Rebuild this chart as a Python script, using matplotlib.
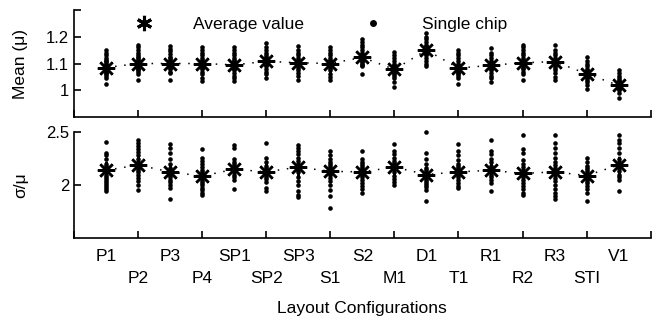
import matplotlib
matplotlib.use("Agg")
import matplotlib.pyplot as plt
from matplotlib.lines import Line2D

plt.rcParams['font.family'] = ['Liberation Sans', 'DejaVu Sans']

# layout configurations (x axis)
configs = ["P1", "P2", "P3", "P4", "SP1", "SP2", "SP3", "S1", "S2",
           "M1", "D1", "T1", "R1", "R2", "R3", "STI", "V1"]

# average values
mean_avg = [1.085, 1.10, 1.10, 1.10, 1.095, 1.108, 1.103, 1.10, 1.123,
            1.078, 1.15, 1.083, 1.093, 1.103, 1.107, 1.062, 1.018]
ratio_avg = [2.14, 2.19, 2.125, 2.085, 2.15, 2.125, 2.17, 2.13, 2.125,
             2.17, 2.10, 2.125, 2.14, 2.11, 2.125, 2.09, 2.19]

# single chip values, mean (mu)
mean_chips = [
    [1.025, 1.045, 1.055, 1.06, 1.065, 1.07, 1.075, 1.08, 1.08, 1.085, 1.09, 1.09, 1.095, 1.10, 1.105, 1.11, 1.115, 1.12, 1.13, 1.14, 1.15],
    [1.04, 1.06, 1.07, 1.075, 1.08, 1.085, 1.09, 1.095, 1.10, 1.10, 1.105, 1.11, 1.115, 1.12, 1.125, 1.13, 1.14, 1.15, 1.16, 1.17],
    [1.04, 1.065, 1.07, 1.08, 1.085, 1.09, 1.095, 1.10, 1.10, 1.105, 1.11, 1.115, 1.12, 1.125, 1.135, 1.145, 1.155, 1.165],
    [1.035, 1.045, 1.06, 1.07, 1.08, 1.085, 1.09, 1.095, 1.10, 1.105, 1.11, 1.115, 1.12, 1.13, 1.14, 1.15, 1.16],
    [1.035, 1.045, 1.055, 1.065, 1.075, 1.08, 1.085, 1.09, 1.095, 1.10, 1.105, 1.11, 1.115, 1.12, 1.13, 1.14, 1.15, 1.16],
    [1.045, 1.06, 1.07, 1.08, 1.09, 1.095, 1.10, 1.105, 1.11, 1.115, 1.12, 1.125, 1.13, 1.14, 1.15, 1.16, 1.175],
    [1.04, 1.055, 1.065, 1.075, 1.085, 1.09, 1.095, 1.10, 1.105, 1.11, 1.115, 1.12, 1.13, 1.14, 1.15, 1.165],
    [1.04, 1.05, 1.06, 1.075, 1.085, 1.09, 1.095, 1.10, 1.105, 1.11, 1.115, 1.12, 1.13, 1.14, 1.15, 1.16],
    [1.062, 1.09, 1.095, 1.10, 1.105, 1.11, 1.115, 1.12, 1.125, 1.13, 1.135, 1.14, 1.15, 1.16, 1.17, 1.18, 1.19],
    [1.013, 1.03, 1.045, 1.055, 1.06, 1.065, 1.07, 1.075, 1.08, 1.085, 1.09, 1.095, 1.10, 1.11, 1.12, 1.13, 1.142],
    [1.09, 1.10, 1.11, 1.12, 1.13, 1.135, 1.14, 1.145, 1.15, 1.155, 1.16, 1.165, 1.17, 1.18, 1.19, 1.20, 1.215],
    [1.024, 1.045, 1.055, 1.06, 1.065, 1.07, 1.075, 1.08, 1.085, 1.09, 1.095, 1.10, 1.11, 1.12, 1.13, 1.14, 1.149],
    [1.032, 1.045, 1.055, 1.065, 1.075, 1.08, 1.085, 1.09, 1.095, 1.10, 1.105, 1.11, 1.12, 1.13, 1.14, 1.157],
    [1.039, 1.06, 1.07, 1.08, 1.085, 1.09, 1.095, 1.10, 1.105, 1.11, 1.115, 1.12, 1.13, 1.14, 1.15, 1.16, 1.17],
    [1.04, 1.048, 1.065, 1.075, 1.085, 1.09, 1.095, 1.10, 1.105, 1.11, 1.115, 1.12, 1.13, 1.14, 1.15, 1.168],
    [1.005, 1.02, 1.03, 1.04, 1.045, 1.05, 1.055, 1.06, 1.065, 1.07, 1.075, 1.08, 1.09, 1.10, 1.11, 1.123],
    [0.97, 0.99, 1.0, 1.005, 1.01, 1.015, 1.02, 1.025, 1.03, 1.035, 1.04, 1.045, 1.055, 1.065, 1.074],
]

# single chip values, sigma/mu
ratio_chips = [
    [1.94, 1.96, 1.98, 2.0, 2.02, 2.04, 2.06, 2.08, 2.10, 2.12, 2.14, 2.16, 2.18, 2.20, 2.25, 2.28, 2.30, 2.41],
    [1.95, 2.0, 2.04, 2.07, 2.10, 2.12, 2.14, 2.16, 2.18, 2.20, 2.22, 2.25, 2.28, 2.31, 2.34, 2.37, 2.40, 2.43],
    [1.87, 1.97, 2.0, 2.03, 2.05, 2.08, 2.10, 2.12, 2.14, 2.16, 2.20, 2.25, 2.30, 2.35, 2.39],
    [1.91, 1.93, 1.95, 1.97, 2.0, 2.02, 2.04, 2.06, 2.08, 2.10, 2.12, 2.14, 2.17, 2.20, 2.23, 2.26, 2.34],
    [1.96, 2.05, 2.08, 2.10, 2.12, 2.14, 2.16, 2.18, 2.20, 2.22, 2.25, 2.35, 2.38],
    [1.94, 1.97, 2.03, 2.06, 2.08, 2.10, 2.12, 2.14, 2.16, 2.18, 2.22, 2.26, 2.40],
    [1.89, 1.91, 1.94, 2.00, 2.04, 2.08, 2.12, 2.14, 2.16, 2.18, 2.20, 2.23, 2.26, 2.29, 2.32, 2.35, 2.38],
    [1.78, 1.90, 1.95, 2.0, 2.04, 2.07, 2.10, 2.12, 2.14, 2.16, 2.18, 2.20, 2.22, 2.25, 2.28, 2.32],
    [1.93, 1.96, 1.99, 2.02, 2.05, 2.08, 2.10, 2.12, 2.14, 2.16, 2.18, 2.20, 2.22, 2.25, 2.32],
    [2.0, 2.03, 2.06, 2.09, 2.12, 2.15, 2.17, 2.19, 2.21, 2.23, 2.26, 2.29, 2.32, 2.39],
    [1.85, 1.95, 1.98, 2.0, 2.02, 2.04, 2.06, 2.08, 2.10, 2.12, 2.14, 2.16, 2.20, 2.25, 2.30, 2.50],
    [1.97, 1.99, 2.02, 2.05, 2.08, 2.10, 2.12, 2.14, 2.16, 2.18, 2.20, 2.24, 2.28, 2.32, 2.39],
    [1.94, 2.02, 2.05, 2.08, 2.10, 2.12, 2.14, 2.16, 2.18, 2.22, 2.25, 2.29, 2.32, 2.43],
    [1.91, 1.93, 1.96, 1.99, 2.02, 2.05, 2.08, 2.10, 2.12, 2.14, 2.17, 2.20, 2.24, 2.30, 2.34, 2.47],
    [1.87, 1.90, 1.93, 1.96, 2.0, 2.04, 2.07, 2.10, 2.12, 2.14, 2.16, 2.19, 2.22, 2.26, 2.30, 2.35, 2.40, 2.47],
    [1.85, 1.93, 1.96, 1.99, 2.02, 2.04, 2.06, 2.08, 2.10, 2.12, 2.14, 2.16, 2.18, 2.22, 2.26],
    [1.94, 2.05, 2.08, 2.10, 2.13, 2.16, 2.18, 2.20, 2.22, 2.25, 2.30, 2.35, 2.40, 2.43, 2.47],
]

xpos = list(range(1, len(configs) + 1))
star = (8, 2, 0)

fig = plt.figure(figsize=(6.6, 3.2), dpi=100)
ax1 = fig.add_axes([0.112, 0.634, 0.874, 0.335])
ax2 = fig.add_axes([0.112, 0.256, 0.874, 0.331])


def draw(ax, chips, avg):
    for x, vals in zip(xpos, chips):
        ax.plot([x] * len(vals), vals, 'o', color='black', ms=3.3, mew=0, zorder=2, clip_on=False)
    ax.plot(xpos, avg, linestyle=(0, (1, 5)), color='black', lw=1.1, zorder=1)
    ax.plot(xpos, avg, linestyle='none', marker=star, color='black', ms=12.5, mew=1.8, zorder=3)
    for s in ['top', 'right']:
        ax.spines[s].set_visible(False)
    for s in ['left', 'bottom']:
        ax.spines[s].set_linewidth(1.2)
    ax.set_xlim(0, 18)
    ax.set_xticks(range(0, 19, 2))
    ax.set_xticklabels([])
    ax.tick_params(direction='in', length=5, width=1.2, labelsize=12)


draw(ax1, mean_chips, mean_avg)
ax1.set_ylim(0.9, 1.3)
ax1.set_yticks([1.0, 1.1, 1.2, 1.3])
ax1.set_yticklabels(['1', '1.1', '1.2', ''])
ax1.set_ylabel('Mean (μ)', fontsize=12.5, labelpad=13)

draw(ax2, ratio_chips, ratio_avg)
ax2.set_ylim(1.5, 2.5)
ax2.set_yticks([2.0, 2.5])
ax2.set_yticklabels(['2', '2.5'])
ax2.set_ylabel('σ/μ', fontsize=12.5, labelpad=13)

# alternating two-row category labels
ax2.xaxis.remove_overlapping_locs = False
ax2.set_xticks(xpos, minor=True)
ax2.set_xticklabels([c if i % 2 == 0 else '\n' + c for i, c in enumerate(configs)],
                    minor=True, fontsize=12.5, linespacing=1.55)
ax2.tick_params(which='minor', length=0, pad=8)
ax2.set_xlabel('Layout Configurations', fontsize=12.5, labelpad=11)

handles = [Line2D([], [], linestyle='none', marker=(6, 2, 0), color='black', ms=11, mew=2.2),
           Line2D([], [], linestyle='none', marker='o', color='black', ms=5, mew=0)]
ax1.legend(handles, ['Average value', 'Single chip'], ncol=2, frameon=False,
           loc='upper left', bbox_to_anchor=(0.08, 1.08), fontsize=12.5,
           handletextpad=2.3, columnspacing=3.5, handlelength=1.0)

fig.savefig('out.png', dpi=100)
